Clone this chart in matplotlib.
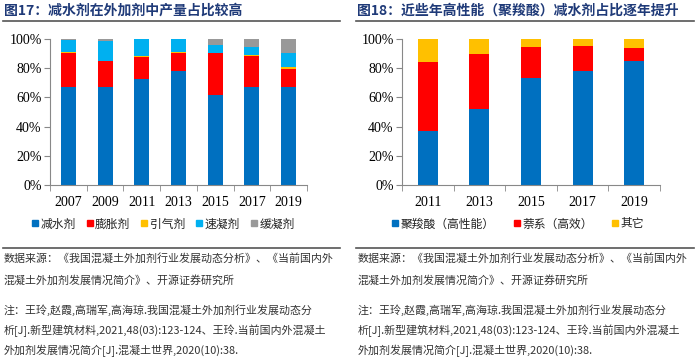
import matplotlib.pyplot as plt
from matplotlib.lines import Line2D

plt.rcParams['font.family'] = ['Noto Sans CJK SC', 'DejaVu Sans']

# left chart: 外加剂产量构成
years_l = ['2007', '2009', '2011', '2013', '2015', '2017', '2019']
jianshui = [67.0, 67.0, 72.4, 78.1, 61.6, 66.9, 66.9]
pengzhang = [23.5, 17.9, 15.3, 12.5, 28.8, 21.7, 12.3]
yinqi = [0.3, 0.3, 0.5, 0.4, 0.2, 0.2, 1.9]
suning = [8.5, 13.7, 11.6, 9.0, 5.3, 5.9, 9.1]
huanning = [0.7, 1.1, 0.2, 0.0, 4.1, 5.3, 9.8]
names_l = ['减水剂', '膨胀剂', '引气剂', '速凝剂', '缓凝剂']

# right chart: 减水剂构成
years_r = ['2011', '2013', '2015', '2017', '2019']
jusuo = [37.2, 52.1, 73.1, 77.9, 84.7]
naixi = [47.0, 37.6, 21.4, 17.5, 8.9]
qita = [15.8, 10.3, 5.5, 4.6, 6.4]
names_r = ['聚羧酸（高性能）', '萘系（高效）', '其它']

colors_l = ['#0070C0', '#FF0000', '#FFC000', '#00B0F0', '#999999']
colors_r = ['#0070C0', '#FF0000', '#FFC000']

title_color = '#1F3A78'
text_color = '#333333'
serif = ['Liberation Serif', 'DejaVu Serif']

W, H = 700, 360
fig = plt.figure(figsize=(7, 3.6), dpi=100)


def px_axes(x0, y0, x1, y1):
    return fig.add_axes([x0 / W, 1 - y1 / H, (x1 - x0) / W, (y1 - y0) / H])


def stacked(ax, cats, series, colors, width, xlim):
    x = list(range(len(cats)))
    bottom = [0.0] * len(cats)
    for vals, c in zip(series, colors):
        ax.bar(x, vals, width, bottom=bottom, color=c, linewidth=0)
        bottom = [b + v for b, v in zip(bottom, vals)]
    ax.set_xlim(*xlim)
    ax.set_ylim(0, 100)
    ax.set_yticks(range(0, 101, 20))
    ax.set_yticklabels([f'{v}%' for v in range(0, 101, 20)], family=serif, fontsize=10)
    ax.set_xticks(x)
    ax.set_xticklabels(cats, family=serif, fontsize=10)
    ax.set_xticks([i - 0.5 for i in range(len(cats) + 1)], minor=True)
    ax.tick_params(axis='x', which='major', length=0, pad=8)
    ax.tick_params(axis='x', which='minor', length=4, color='#888888')
    ax.tick_params(axis='y', length=4, color='#888888', pad=2)
    for s in ('top', 'right'):
        ax.spines[s].set_visible(False)
    for s in ('left', 'bottom'):
        ax.spines[s].set_color('#888888')


axl = px_axes(50, 39, 307, 185)
stacked(axl, years_l, [jianshui, pengzhang, yinqi, suning, huanning], colors_l, 0.41, (-0.5, 6.45))
axr = px_axes(402, 39, 660, 185)
stacked(axr, years_r, [jusuo, naixi, qita], colors_r, 0.39, (-0.5, 4.5))

# legends
def legend(cx, labels, colors, gap):
    handles = [Line2D([], [], marker='s', linestyle='', markersize=5, color=c) for c in colors]
    fig.legend(handles, labels, loc='center', bbox_to_anchor=(cx / W, 1 - 224 / H),
               ncol=len(labels), frameon=False, fontsize=8.5, handlelength=0.6,
               handletextpad=0.15, columnspacing=gap, labelcolor='#222222')


legend(163, names_l, colors_l, 0.9)
legend(518, names_r, colors_r, 1.6)

# titles and separator lines
fig.text(4 / W, 1 - 11 / H, '图17：减水剂在外加剂中产量占比较高', fontsize=10,
         fontweight='bold', color=title_color, va='center')
fig.text(357 / W, 1 - 11 / H, '图18：近些年高性能（聚羧酸）减水剂占比逐年提升', fontsize=10,
         fontweight='bold', color=title_color, va='center')
for x0, x1 in [(3, 340), (356, 694)]:
    for y in (21, 248):
        fig.add_artist(Line2D([x0 / W, x1 / W], [1 - y / H, 1 - y / H],
                              color='#555555', linewidth=1.2))

src1 = '数据来源：《我国混凝土外加剂行业发展动态分析》、《当前国内外'
src2 = '混凝土外加剂发展情况简介》、开源证券研究所'
note_l = ['注：王玲,赵霞,高瑞军,高海琼.我国混凝土外加剂行业发展动态分',
          '析[J].新型建筑材料,2021,48(03):123-124、王玲.当前国内外混凝土',
          '外加剂发展情况简介[J].混凝土世界,2020(10):38.']
note_r = ['注：王玲,赵霞,高瑞军,高海琼.我国混凝土外加剂行业发展动态分',
          '析[J].新型建筑材料,2021,48(03):123-124、王玲.当前国内外混凝土',
          '外加剂发展情况简介[J].混凝土世界,2020(10):38.']

for x0, note in [(4, note_l), (358, note_r)]:
    for y, t in zip([258, 280], [src1, src2]):
        fig.text(x0 / W, 1 - y / H, t, fontsize=7.9, color=text_color, va='center')
    for y, t in zip([310, 331, 351], note):
        fig.text(x0 / W, 1 - y / H, t, fontsize=7.9, color=text_color, va='center')

fig.savefig('out.png', dpi=100, facecolor='white')
